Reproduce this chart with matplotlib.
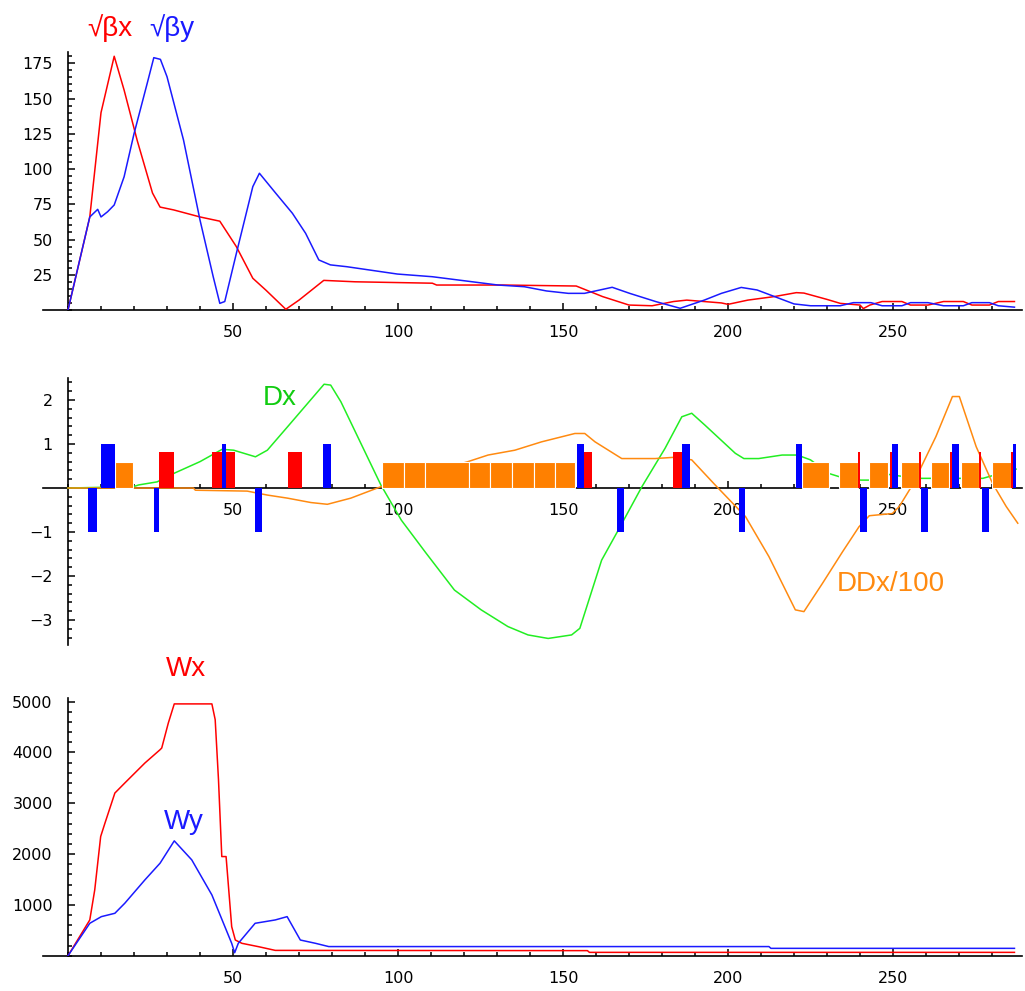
import matplotlib
matplotlib.use("Agg")
import matplotlib.pyplot as plt
from matplotlib.ticker import FixedLocator, MultipleLocator

plt.rcParams['font.family'] = ['DejaVu Sans']

# ---- top panel: sqrt(beta) ----
s_bx = [0, 6.6, 10, 14, 17, 21, 25.6, 27.9, 32, 40, 46, 51, 56, 60, 66, 70, 77.5, 87,
        110.4, 111.7, 131.7, 154, 162, 170, 177, 183.5, 187.5, 198, 200, 206, 214, 220.7,
        223, 230, 234, 240, 241, 243, 246.7, 252.7, 255.3, 260.6, 265.3, 271.3, 273.9,
        279.2, 281.9, 286.8]
bx = [0, 66, 140, 180, 156, 120, 83, 73, 71, 66, 63, 45, 22.5, 14, 0.5, 7, 21, 20,
      19, 17.7, 17.7, 17, 9.5, 3.5, 3, 6, 7, 5, 4, 7, 9.5, 12.3,
      12, 7.5, 4.7, 3.5, 1, 3.5, 6, 6, 3.5, 3.5, 6, 6, 3.5,
      3.5, 6, 6]

s_by = [0, 6.6, 9, 10, 12, 14, 17, 20, 24, 26, 28, 30, 35, 40, 44, 46, 47.5, 51, 56, 58,
        63, 68, 72, 76, 79.5, 84.5, 99.8, 110.4, 130.3, 138.3, 145, 151.6, 156.5, 164.9,
        170.2, 178.2, 185.5, 192.8, 198, 204, 208.8, 220, 225, 234, 238, 243.3, 246.7,
        252.7, 255.3, 260.6, 265.3, 271.3, 273.9, 279.2, 281.9, 286.8]
by = [0, 66, 71.4, 66, 69.7, 74.5, 94.5, 125, 160.8, 179, 177.8, 165.5, 120.6, 63.8, 23.6,
      4.7, 6, 40, 87.5, 97, 82.7, 68.6, 54.4, 35.5, 32, 30.7, 25.5, 23.6, 17.7, 16.5, 13.5,
      11.8, 11.8, 16.1, 11.8, 5.9, 1.2, 7, 11.8, 16, 14.2, 4.3, 3, 3, 5.2, 5.2, 3,
      3, 5.2, 5.2, 3, 3, 5.2, 5.2, 3, 2]

# ---- middle panel: dispersion ----
s_dx = [0, 19.8, 21.4, 27, 32, 40, 46.7, 50.2, 56.8, 60.4, 66.5, 77.6, 79.6, 82.7, 94.8,
        101, 108.5, 117.1, 125.2, 133.3, 139.4, 145.5, 152.6, 155.1, 161.7, 166.8, 173.9,
        180.9, 186, 189, 193, 202.2, 204.8, 209.3, 216.4, 221, 225, 230.6, 233.6, 240.2,
        242.7, 246.8, 256.9, 263, 277.2, 287.3]
dx = [0, 0.03, 0.07, 0.14, 0.33, 0.6, 0.88, 0.86, 0.71, 0.86, 1.39, 2.36, 2.34, 1.96, 0.07,
      -0.73, -1.48, -2.32, -2.77, -3.15, -3.34, -3.42, -3.34, -3.19, -1.64, -0.95, 0.03,
      0.9, 1.62, 1.7, 1.43, 0.79, 0.67, 0.67, 0.75, 0.75, 0.64, 0.33, 0.26, 0.18,
      0.18, 0.33, 0.22, 0.22, 0.22, 0.43]

s_ddx = [0, 38, 38.6, 54.3, 60.4, 66.5, 73.6, 78.6, 85.7, 94.8, 121.2, 127.3, 135.4, 143.5,
         153.6, 156.6, 159.7, 167.8, 177.9, 184, 189, 196.1, 205.3, 212.4, 220.4, 223, 228.6,
         234.7, 239.7, 242.8, 249.8, 251.9, 255.9, 263, 268, 270.1, 275.2, 280.2, 284.3, 287.8]
ddx = [0, 0, -0.05, -0.07, -0.16, -0.23, -0.33, -0.37, -0.23, 0.03, 0.6, 0.75, 0.86, 1.05,
       1.24, 1.24, 1.05, 0.67, 0.67, 0.7, 0.64, 0.07, -0.65, -1.56, -2.77, -2.81, -2.17,
       -1.45, -0.88, -0.63, -0.58, -0.42, 0.07, 1.17, 2.08, 2.08, 0.94, 0.1, -0.42, -0.8]

# magnets: quadrupoles (start, end, sign), dipoles and sextupoles (start, end)
quad_start = [6.2, 9.9, 26.2, 46.7, 56.8, 77.3, 154.3, 166.5, 186.2, 203.2, 220.7, 240,
              249.6, 258.5, 267.9, 277, 286.5]
quad_end = [8.9, 14.1, 27.7, 47.9, 58.9, 79.6, 156.3, 168.5, 188.4, 205.2, 222.5, 242,
            251.4, 260.5, 269.9, 279, 287.3]
quad_sign = [-1, 1, -1, 1, -1, 1, 1, -1, 1, -1, 1, -1, 1, -1, 1, -1, 1]

dip_start = [27.7, 43.7, 66.8, 156.3, 183.2, 239.4, 249.0, 257.9, 267.4, 276.2, 285.8]
dip_end = [32.0, 50.5, 71.0, 158.9, 186.2, 239.9, 249.6, 258.4, 267.9, 276.7, 286.5]
dip_height = 0.82

sext_start = [14.1, 95.1, 101.7, 108.2, 121.4, 127.8, 134.6, 141.1, 147.5,
              222.5, 233.6, 242.8, 252.4, 261.5, 270.6, 280.0]
sext_end = [19.8, 101.7, 108.2, 121.4, 127.8, 134.6, 141.1, 147.5, 153.6,
            230.6, 239.4, 248.5, 257.9, 267.1, 276.2, 285.8]
sext_height = 0.6

# ---- bottom panel: chromatic W functions ----
s_wx = [0, 6.6, 8.1, 9.9, 11.2, 14.2, 17.2, 23.3, 27.9, 28.4, 30.4, 32.2, 43.6, 44.6,
        45.6, 46.6, 47.9, 49.6, 50.7, 52.7, 57.8, 62.8, 157.4, 158, 286.8]
wx = [0, 704, 1295, 2346, 2610, 3201, 3398, 3792, 4054, 4087, 4580, 4955, 4955, 4645,
      3463, 1951, 1951, 572, 309, 244, 177, 105, 100, 66, 66]

s_wy = [0, 6.6, 10.1, 14.2, 17.2, 23.3, 27.9, 32.2, 37.5, 43.6, 49.6, 50.5, 51.6, 56.7,
        62.8, 66.4, 70.4, 75, 79, 212.4, 213, 286.8]
wy = [0, 638, 769, 835, 1032, 1492, 1821, 2260, 1886, 1196, 244, 59, 244, 638,
      704, 769, 309, 244, 180, 180, 145, 145]

RED = "#ff0000"
BLUE = "#1a1aff"
GREEN = "#22ee22"
ORANGE = "#ff8a10"
LABEL_FONT = ['Liberation Sans', 'DejaVu Sans']


def style_axes(ax, ylim, ymajor, yminor):
    ax.set_xlim(-7.5, 289)
    ax.set_ylim(*ylim)
    for side in ("top", "right"):
        ax.spines[side].set_visible(False)
    ax.spines["left"].set_position(("data", 0))
    ax.spines["bottom"].set_position(("data", 0))
    ax.spines["left"].set_linewidth(1.2)
    ax.spines["bottom"].set_linewidth(1.2)
    ax.xaxis.set_major_locator(FixedLocator([50, 100, 150, 200, 250]))
    ax.xaxis.set_minor_locator(MultipleLocator(10))
    ax.yaxis.set_major_locator(FixedLocator(ymajor))
    ax.yaxis.set_minor_locator(MultipleLocator(yminor))
    ax.tick_params(which="both", direction="in", labelsize=11.5, pad=11, width=1.1)
    ax.tick_params(which="major", length=5)
    ax.tick_params(which="minor", length=3)
    ax.set_facecolor("none")


fig = plt.figure(figsize=(10.25, 9.91), dpi=100)
left, width = 0.0422, 0.9546

# top
ax1 = fig.add_axes([left, 0.6872, width, 0.2603])
style_axes(ax1, (0, 183), [25, 50, 75, 100, 125, 150, 175], 5)
ax1.plot(s_bx, bx, color=RED, lw=1.1, zorder=3)
ax1.plot(s_by, by, color=BLUE, lw=1.1, zorder=3)
ax1.text(12.7, 200, "√βx", color=RED, fontsize=20, family=LABEL_FONT,
         ha="center", va="center", clip_on=False)
ax1.text(31.5, 200, "√βy", color=BLUE, fontsize=20, family=LABEL_FONT,
         ha="center", va="center", clip_on=False)

# middle
ax2 = fig.add_axes([left, 0.3491, width, 0.2694])
style_axes(ax2, (-3.57, 2.5), [-3, -2, -1, 1, 2], 0.2)
ax2.plot(s_dx, dx, color=GREEN, lw=1.1, zorder=3)
ax2.plot(s_ddx, ddx, color=ORANGE, lw=1.1, zorder=3)
for a, b in zip(sext_start, sext_end):
    ax2.bar(a, sext_height, width=b - a, align="edge", color="#ff8000",
            edgecolor="white", linewidth=0.8, zorder=4)
for a, b in zip(dip_start, dip_end):
    ax2.bar(a, dip_height, width=b - a, align="edge", color=RED, linewidth=0, zorder=5)
for a, b, s in zip(quad_start, quad_end, quad_sign):
    ax2.bar(a, s, width=b - a, align="edge", color="#0000ff", linewidth=0, zorder=6)
ax2.text(64.2, 2.05, "Dx", color="#11cc11", fontsize=20, family=LABEL_FONT,
         ha="center", va="center")
ax2.text(249.4, -2.18, "DDx/100", color=ORANGE, fontsize=20, family=LABEL_FONT,
         ha="center", va="center")

# bottom
ax3 = fig.add_axes([left, 0.0356, width, 0.26])
style_axes(ax3, (0, 5070), [1000, 2000, 3000, 4000, 5000], 200)
ax3.plot(s_wx, wx, color=RED, lw=1.1, zorder=3)
ax3.plot(s_wy, wy, color=BLUE, lw=1.1, zorder=3)
ax3.text(35.6, 5650, "Wx", color=RED, fontsize=20, family=LABEL_FONT,
         ha="center", va="center", clip_on=False)
ax3.text(35.0, 2635, "Wy", color=BLUE, fontsize=20, family=LABEL_FONT,
         ha="center", va="center")

fig.savefig("out.png", dpi=100, facecolor="white")
